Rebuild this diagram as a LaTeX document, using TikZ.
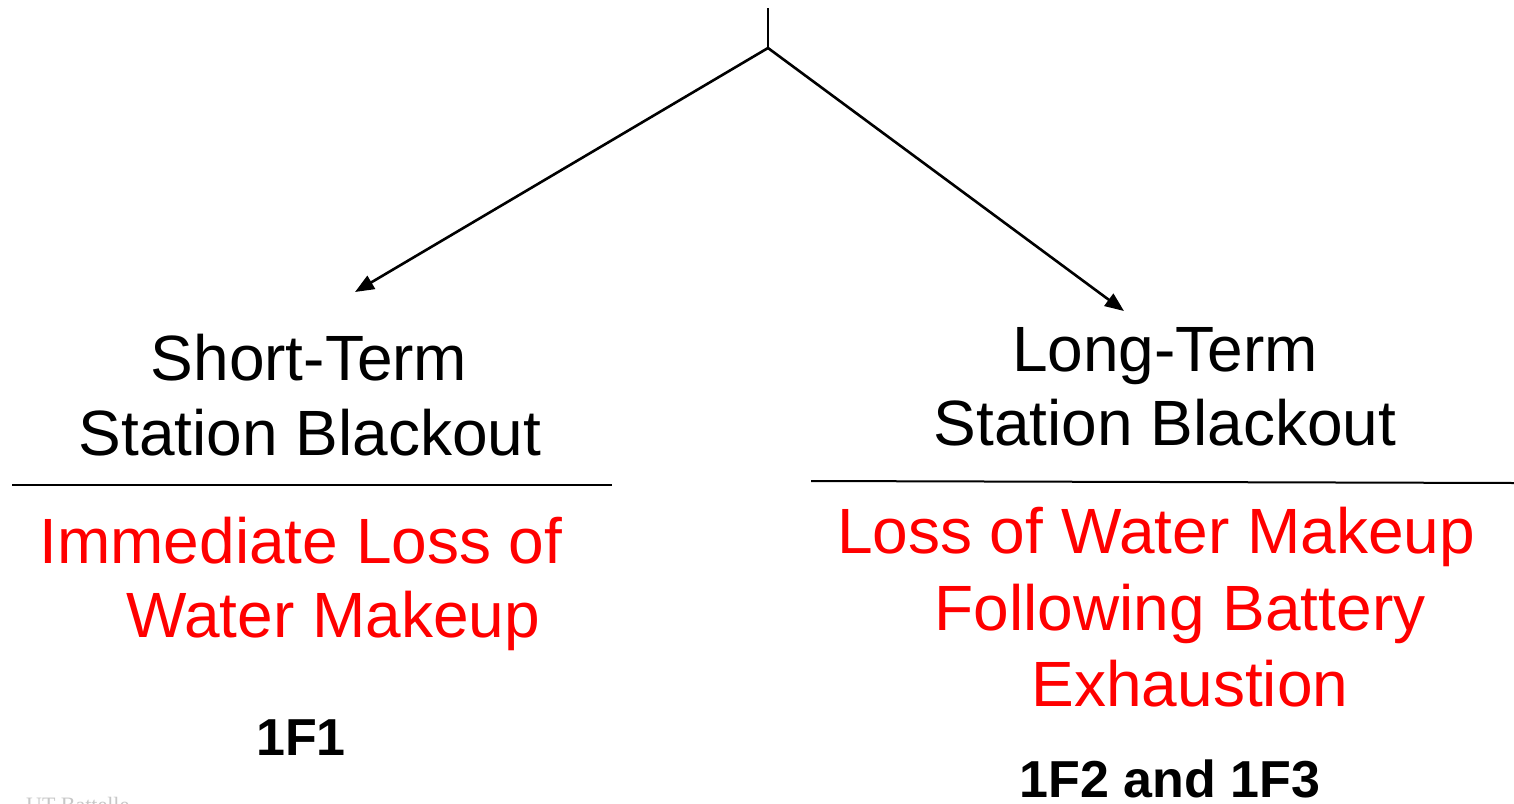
\documentclass[tikz,border=0pt]{standalone}
\usepackage{fontspec}
\setmainfont{Liberation Sans}
\newfontfamily\serifft{Liberation Serif}
\usetikzlibrary{arrows.meta}
\definecolor{redtxt}{RGB}{255,0,0}
\tikzset{
  conn/.style={line width=2.6pt, -{Triangle[length=19pt,width=15pt]}},
  rule/.style={line width=2pt},
  head/.style={anchor=base, inner sep=0pt, font=\fontsize{64}{72}\selectfont},
  effect/.style={anchor=base, inner sep=0pt, text=redtxt, font=\fontsize{64}{72}\selectfont},
  unit/.style={anchor=base, inner sep=0pt, font=\fontsize{52}{58}\selectfont\bfseries},
}
\begin{document}
\begin{tikzpicture}[x=1pt,y=-1pt]
  \useasboundingbox (0,0) rectangle (1514,803);
  \clip (0,0) rectangle (1514,803);

  % stem and branches
  \coordinate (stem) at (768,8);
  \coordinate (fork) at (768,48);
  \coordinate (tipL) at (355,292);
  \coordinate (tipR) at (1124,311);
  \draw[line width=2.6pt] (stem) -- (fork);
  \draw[conn] (fork) -- (tipL);
  \draw[conn] (fork) -- (tipR);

  % left branch
  \node[head] (stA) at (309,380) {Short-Term};
  \node[head] (stB) at (310,455) {Station Blackout};
  \coordinate (ruleL1) at (12,485);
  \coordinate (ruleL2) at (612,485);
  \draw[rule] (ruleL1) -- (ruleL2);
  \node[effect] (effA) at (301,563) {Immediate Loss of};
  \node[effect] (effB) at (333,637) {Water Makeup};
  \node[unit] (u1) at (301,755) {1F1};

  % right branch
  \node[head] (ltA) at (1165,371) {Long-Term};
  \node[head] (ltB) at (1165,445) {Station Blackout};
  \coordinate (ruleR1) at (811,481);
  \coordinate (ruleR2) at (1514,483);
  \draw[rule] (ruleR1) -- (ruleR2);
  \node[effect] (effC) at (1156,553) {Loss of Water Makeup};
  \node[effect] (effD) at (1180,630) {Following Battery};
  \node[effect] (effE) at (1190,706) {Exhaustion};
  \node[unit] (u2) at (1170,797) {1F2 and 1F3};

  % footer
  \node[anchor=base west, inner sep=0pt, text=black!22, font=\serifft\fontsize{22}{24}\selectfont] (foot) at (26,812) {UT-Battelle};
\end{tikzpicture}
\end{document}
